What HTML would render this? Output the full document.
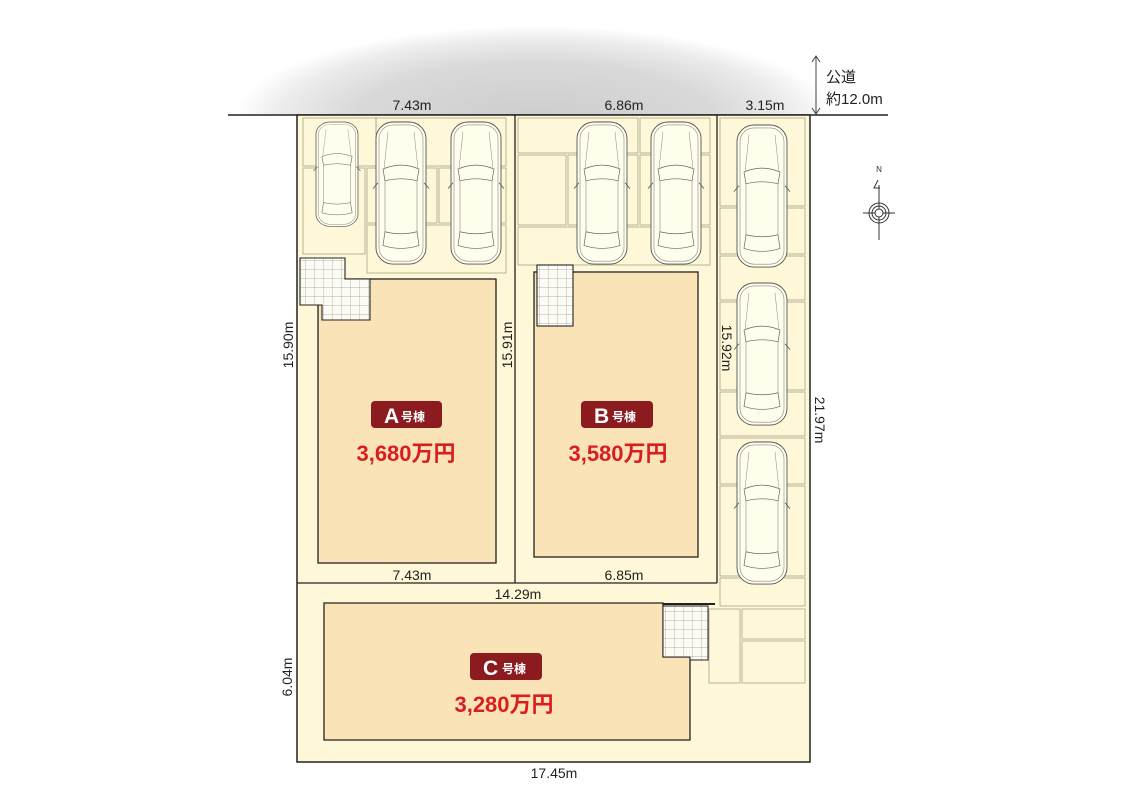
<!DOCTYPE html>
<html><head><meta charset="utf-8"><style>
html,body{margin:0;padding:0;background:#fff;}
svg{display:block;}
text{font-family:"Liberation Sans","Noto Sans CJK JP",sans-serif;}
</style></head><body>
<svg width="1121" height="800" viewBox="0 0 1121 800" xmlns="http://www.w3.org/2000/svg">
<defs>
<radialGradient id="sky" cx="0.5" cy="0.5" r="0.5">
<stop offset="0" stop-color="#cdcdcd"/><stop offset="0.6" stop-color="#d9d9d9"/><stop offset="0.85" stop-color="#ececec"/><stop offset="1" stop-color="#fff"/>
</radialGradient>
<pattern id="grid" width="9" height="9" patternUnits="userSpaceOnUse">
<rect width="9" height="9" fill="#fdfcf4"/><path d="M9 0V9M0 9H9" stroke="#999" stroke-width="0.7" fill="none"/>
</pattern>
<g id="car">
<rect x="0" y="0" width="50" height="145" rx="17" fill="#fffdec" stroke="#555" stroke-width="0.9"/>
<rect x="3" y="3" width="44" height="139" rx="14" fill="none" stroke="#888" stroke-width="0.6"/>
<path d="M7 48 Q25 40 43 48 L41 60 Q25 56 9 60 Z" fill="none" stroke="#666" stroke-width="0.7"/>
<path d="M9 60 L9 112 M41 60 L41 112" stroke="#888" stroke-width="0.6"/>
<path d="M9 112 Q25 116 41 112 L43 126 Q25 132 7 126 Z" fill="none" stroke="#666" stroke-width="0.7"/>
<path d="M2 62 L-3 68 M48 62 L53 68" stroke="#555" stroke-width="0.8"/>
<path d="M12 10 L8 48 M38 10 L42 48" stroke="#888" stroke-width="0.5"/>
</g>
</defs>
<rect width="1121" height="800" fill="#fff"/>
<ellipse cx="535" cy="118" rx="300" ry="92" fill="url(#sky)"/>
<rect x="0" y="115" width="1121" height="685" fill="#fff"/>
<line x1="228" y1="115" x2="888" y2="115" stroke="#222" stroke-width="1.5"/>
<!-- site -->
<rect x="297" y="115" width="513" height="647" fill="#fef8d8" stroke="#222" stroke-width="1.5"/>
<line x1="515" y1="115" x2="515" y2="583" stroke="#222" stroke-width="1.3"/>
<line x1="717" y1="115" x2="717" y2="583" stroke="#222" stroke-width="1.3"/>
<line x1="297" y1="583" x2="717" y2="583" stroke="#222" stroke-width="1.3"/>
<!-- parking cells -->
<g fill="none" stroke="#a9a48a" stroke-width="0.8">
<rect x="303" y="118" width="73" height="48"/><rect x="376" y="118" width="130" height="48"/>
<rect x="303" y="168" width="62" height="86"/><rect x="367" y="168" width="70" height="55"/><rect x="439" y="168" width="67" height="55"/>
<rect x="367" y="225" width="139" height="48"/>
<rect x="518" y="118" width="120" height="35"/><rect x="640" y="118" width="70" height="35"/>
<rect x="518" y="155" width="48" height="70"/><rect x="568" y="155" width="70" height="70"/><rect x="640" y="155" width="70" height="70"/>
<rect x="518" y="227" width="192" height="38"/>
<rect x="720" y="118" width="85" height="88"/><rect x="720" y="208" width="85" height="46"/><rect x="720" y="256" width="85" height="44"/>
<rect x="720" y="302" width="85" height="88"/><rect x="720" y="392" width="85" height="44"/><rect x="720" y="438" width="85" height="46"/>
<rect x="720" y="486" width="85" height="90"/><rect x="720" y="578" width="85" height="28"/>
<rect x="709" y="609" width="31" height="74"/><rect x="742" y="609" width="63" height="30"/><rect x="742" y="641" width="63" height="42"/>
</g>
<!-- cars -->
<use href="#car" transform="translate(316,122) scale(0.84,0.72)"/>
<use href="#car" transform="translate(376,122) scale(1,0.98)"/>
<use href="#car" transform="translate(451,122) scale(1,0.98)"/>
<use href="#car" transform="translate(577,122) scale(1,0.98)"/>
<use href="#car" transform="translate(651,122) scale(1,0.98)"/>
<use href="#car" transform="translate(737,125) scale(1,0.98)"/>
<use href="#car" transform="translate(737,283) scale(1,0.98)"/>
<use href="#car" transform="translate(737,442) scale(1,0.98)"/>
<!-- houses -->
<rect x="318" y="279" width="178" height="284" fill="#fbe3b8" stroke="#222" stroke-width="1.3"/>
<path d="M300 258 H345 V279 H370 V320 H322 V305 H300 Z" fill="url(#grid)" stroke="#222" stroke-width="1.1"/>
<rect x="534" y="272" width="164" height="285" fill="#fbe3b8" stroke="#222" stroke-width="1.3"/>
<rect x="537" y="265" width="36" height="61" fill="url(#grid)" stroke="#222" stroke-width="1.1"/>
<path d="M324 603 H663 V657 H690 V740 H324 Z" fill="#fbe3b8" stroke="#222" stroke-width="1.3"/>
<line x1="663" y1="604" x2="715" y2="604" stroke="#222" stroke-width="2"/>
<path d="M663 606 H708 V660 H690 V657 H663 Z" fill="url(#grid)" stroke="#222" stroke-width="1"/>
<!-- badges -->
<g font-weight="bold">
<rect x="371" y="401" width="71" height="27" rx="4" fill="#8c1b1f"/>
<text x="384" y="423" font-size="21" fill="#fff">A</text><text x="401" y="421" font-size="12" fill="#fff">号棟</text>
<text x="406" y="461" font-size="22" fill="#d81e1e" text-anchor="middle">3,680万円</text>
<rect x="581" y="401" width="72" height="27" rx="4" fill="#8c1b1f"/>
<text x="594" y="423" font-size="21" fill="#fff">B</text><text x="612" y="421" font-size="12" fill="#fff">号棟</text>
<text x="618" y="461" font-size="22" fill="#d81e1e" text-anchor="middle">3,580万円</text>
<rect x="470" y="653" width="72" height="27" rx="4" fill="#8c1b1f"/>
<text x="483" y="675" font-size="21" fill="#fff">C</text><text x="502" y="673" font-size="12" fill="#fff">号棟</text>
<text x="504" y="712" font-size="22" fill="#d81e1e" text-anchor="middle">3,280万円</text>
</g>
<!-- dimensions -->
<g font-size="14" fill="#222" text-anchor="middle">
<text x="412" y="110">7.43m</text><text x="624" y="110">6.86m</text><text x="765" y="110">3.15m</text>
<text x="412" y="580">7.43m</text><text x="624" y="580">6.85m</text>
<text x="518" y="599">14.29m</text><text x="554" y="778">17.45m</text>
<text transform="translate(293,345) rotate(-90)">15.90m</text>
<text transform="translate(512,345) rotate(-90)">15.91m</text>
<text transform="translate(292,677) rotate(-90)">6.04m</text>
<text transform="translate(722,348) rotate(90)">15.92m</text>
<text transform="translate(815,420) rotate(90)">21.97m</text>
<text x="826" y="82" text-anchor="start" font-size="15">公道</text>
<text x="826" y="104" text-anchor="start" font-size="15">約12.0m</text>
</g>
<line x1="816" y1="57" x2="816" y2="113" stroke="#444" stroke-width="1"/>
<path d="M812 62 L816 56 L820 62 M812 108 L816 114 L820 108" fill="none" stroke="#444" stroke-width="1"/>
<!-- compass -->
<g stroke="#333" fill="none" stroke-width="1">
<line x1="879" y1="185" x2="879" y2="240"/><line x1="863" y1="213" x2="895" y2="213"/>
<circle cx="879" cy="213" r="10"/><circle cx="879" cy="213" r="7"/><circle cx="879" cy="213" r="4" fill="#fff"/>
<path d="M878 180 L874 188 L880 188"/>
</g>
<text x="879" y="172" font-size="8" text-anchor="middle" fill="#333">N</text>
</svg>
</body></html>
